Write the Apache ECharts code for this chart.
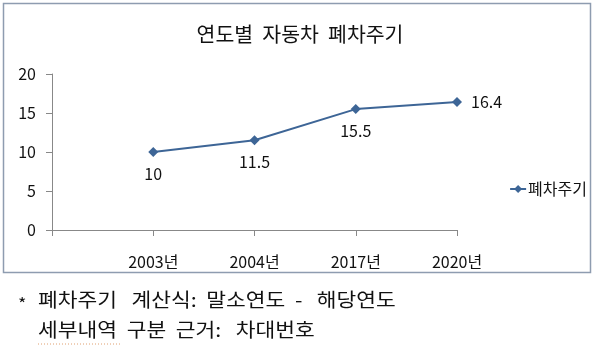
<!DOCTYPE html>
<html>
<head>
<meta charset="utf-8">
<script src="https://cdn.jsdelivr.net/npm/echarts@6/dist/echarts.min.js"></script>
<style>
html, body { margin: 0; padding: 0; background: #fff; }
#chart { width: 600px; height: 354px; }
</style>
</head>
<body>
<div id="chart"></div>
<script>
var years = ['2003년', '2004년', '2017년', '2020년'];
var cycle = [10, 11.5, 15.5, 16.4];
var yTicks = [0, 5, 10, 15, 20];
var labelPos = ['bottom', 'bottom', 'bottom', 'right'];

try {
    var chart = echarts.init(document.getElementById('chart'));
    var font = '"Noto Sans CJK KR", "Noto Sans", sans-serif';
    // leading blank slot so the first year sits one step right of the y axis
    var cats = [''].concat(years);
    var points = [null].concat(cycle.map(function (v, i) {
        return { value: v, label: { position: labelPos[i] } };
    }));

    // footnote lines below the chart box, stretched a little like the wide source font
    function note(text, x, y, size) {
        return {
            type: 'text', x: x, y: y, scaleX: 1.13,
            style: { text: text, fontSize: size || 19, fill: '#111', fontFamily: font,
                     align: 'left', verticalAlign: 'middle' }
        };
    }

    var option = {
        animation: false,
        textStyle: { fontFamily: font },
        title: {
            text: '연도별  자동차  폐차주기',
            left: 'center', top: 19,
            textStyle: { fontSize: 20.5, fontWeight: 'normal', color: '#111', fontFamily: font }
        },
        legend: {
            right: 8, top: 176, itemWidth: 16, itemHeight: 10, itemGap: 4,
            data: ['폐차주기'],
            textStyle: { fontSize: 16, color: '#111', fontFamily: font, padding: [0, 0, 0, -3] }
        },
        grid: { left: 52, right: 143, top: 74, bottom: 124 },
        xAxis: {
            type: 'category', data: cats, boundaryGap: false,
            axisLine: { lineStyle: { color: '#888' } },
            axisTick: { length: 6, lineStyle: { color: '#888' } },
            axisLabel: { margin: 24, fontSize: 16, color: '#111', fontFamily: font }
        },
        yAxis: {
            type: 'value', min: yTicks[0], max: yTicks[yTicks.length - 1], interval: 5,
            splitLine: { show: false },
            axisLine: { show: true, lineStyle: { color: '#888' } },
            axisTick: { show: true, length: 6, lineStyle: { color: '#888' } },
            axisLabel: { margin: 16, fontSize: 16, color: '#111', fontFamily: font }
        },
        series: [{
            name: '폐차주기', type: 'line', data: points,
            symbol: 'diamond', symbolSize: 10, showAllSymbol: true,
            itemStyle: { color: '#3d6596' },
            lineStyle: { color: '#3d6596', width: 2 },
            label: { show: true, fontSize: 16, color: '#111', distance: 9, fontFamily: font }
        }],
        graphic: [
            { type: 'rect', shape: { x: 3.5, y: 3.5, width: 587, height: 269 },
              style: { fill: 'none', stroke: '#8e9cb0', lineWidth: 1.5 } },
            note('*', 18, 304, 16),
            note('폐차주기   계산식:  말소연도  -   해당연도', 38, 300),
            note('세부내역  구분  근거:   차대번호', 38, 330),
            { type: 'line', shape: { x1: 38, y1: 344, x2: 122, y2: 344 },
              style: { stroke: '#e0a070', lineWidth: 1, lineDash: [1, 2] } }
        ]
    };
    chart.setOption(option);
} catch (error) {
    console.error('Failed to draw chart');
    console.error(error);
}
</script>
</body>
</html>
